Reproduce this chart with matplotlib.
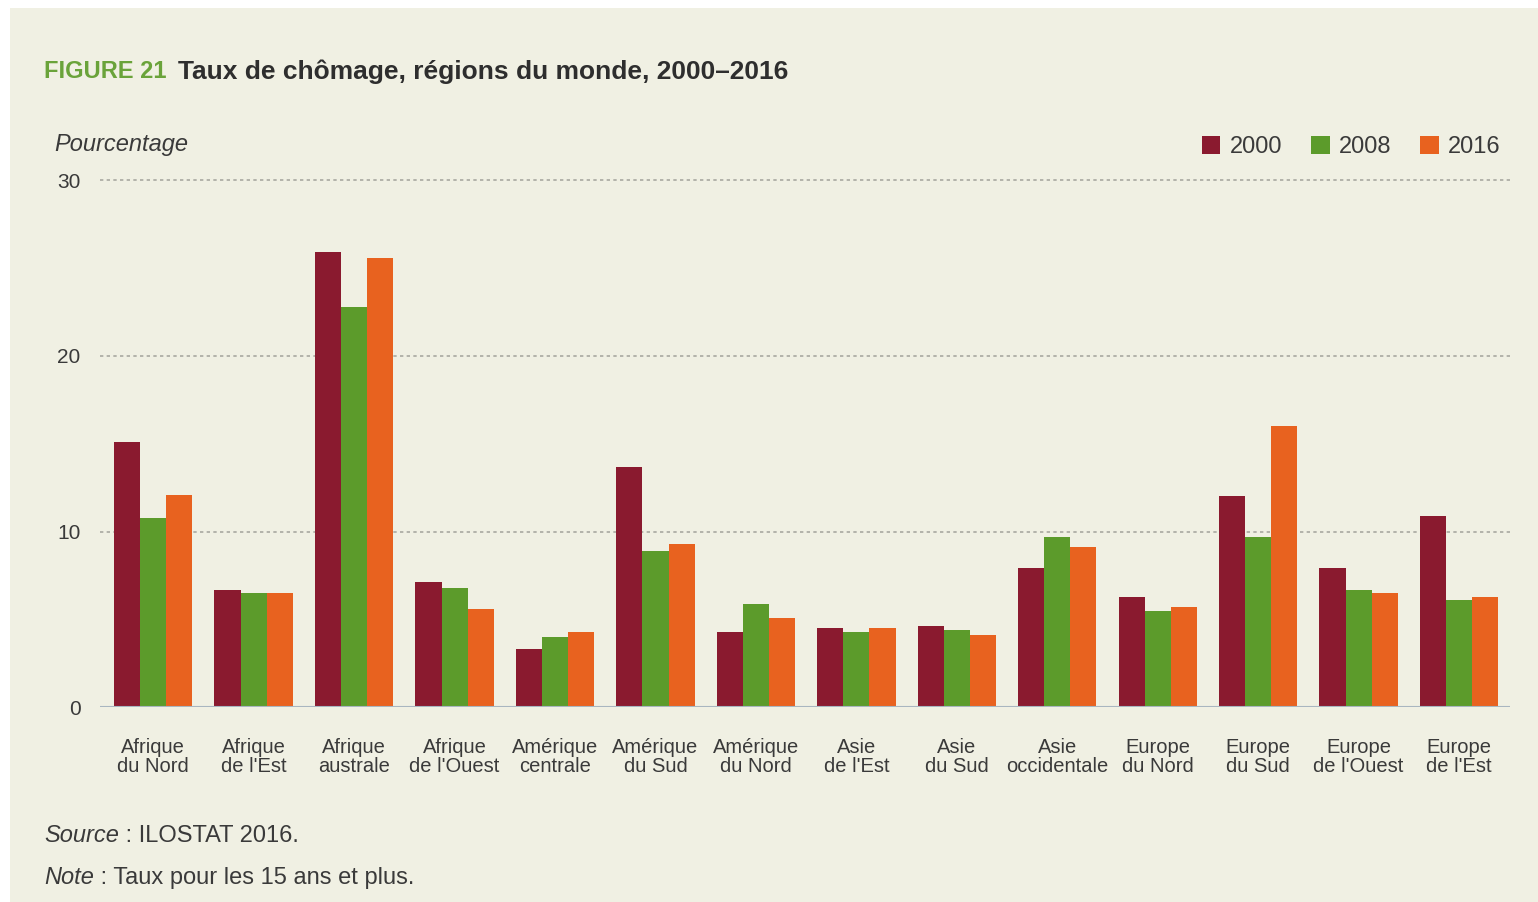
import matplotlib
matplotlib.use("Agg")
import matplotlib.pyplot as plt
import numpy as np
from matplotlib.patches import Rectangle

regions = ["Afrique\ndu Nord", "Afrique\nde l'Est", "Afrique\naustrale", "Afrique\nde l'Ouest",
           "Amérique\ncentrale", "Amérique\ndu Sud", "Amérique\ndu Nord", "Asie\nde l'Est",
           "Asie\ndu Sud", "Asie\noccidentale", "Europe\ndu Nord", "Europe\ndu Sud",
           "Europe\nde l'Ouest", "Europe\nde l'Est"]
years = ["2000", "2008", "2016"]
v2000 = [15.1, 6.7, 25.9, 7.1, 3.3, 13.7, 4.3, 4.5, 4.6, 7.9, 6.3, 12.0, 7.9, 10.9]
v2008 = [10.8, 6.5, 22.8, 6.8, 4.0, 8.9, 5.9, 4.3, 4.4, 9.7, 5.5, 9.7, 6.7, 6.1]
v2016 = [12.1, 6.5, 25.6, 5.6, 4.3, 9.3, 5.1, 4.5, 4.1, 9.1, 5.7, 16.0, 6.5, 6.3]
yticks = [0, 10, 20, 30]

colors = ["#8a1a2f", "#5c9b2b", "#e8621f"]
bg = "#f0f0e3"
txt = "#3a3a3a"

plt.rcParams['font.family'] = ['Liberation Sans', 'DejaVu Sans']

fig = plt.figure(figsize=(15.38, 9.02), dpi=100)
fig.patch.set_facecolor("white")
fig.patches.append(Rectangle((10 / 1538, 0), 1 - 10 / 1538, 1 - 8 / 902,
                             transform=fig.transFigure, facecolor=bg, edgecolor="none", zorder=-10))

ax = fig.add_axes([0.065, 0.216, 0.917, 0.584])
ax.patch.set_alpha(0)

x = np.arange(len(regions))
w = 0.26
for i, (vals, c) in enumerate(zip([v2000, v2008, v2016], colors)):
    ax.bar(x + (i - 1) * w, vals, w, color=c, label=years[i], zorder=3)

ax.set_xlim(-0.53, 13.51)
ax.set_ylim(0, 30)
ax.set_yticks(yticks)
for t in yticks[1:]:
    ax.axhline(t, color="#a8a8a0", lw=1.2, ls=(0, (2, 2)), zorder=1, clip_on=(t != 30))
ax.axhline(0, color="#a9b6c0", lw=1.5, zorder=4)

for s in ax.spines.values():
    s.set_visible(False)
ax.tick_params(axis="both", length=0, labelsize=15, colors=txt)
ax.tick_params(axis="y", pad=14)
ax.set_xticks(x)
ax.set_xticklabels(regions, fontsize=14.5, linespacing=1.0)
ax.tick_params(axis="x", pad=22)

fig.text(44 / 1538, 1 - 72 / 902, "FIGURE 21", color="#6aa33a", fontsize=17, fontweight="bold", va="center")
fig.text(178 / 1538, 1 - 72 / 902, "Taux de chômage, régions du monde, 2000–2016", color="#2e2e2e",
         fontsize=19, fontweight="bold", va="center")
fig.text(54 / 1538, 1 - 144 / 902, "Pourcentage", color=txt, fontsize=17, style="italic", va="center")

leg = ax.legend(loc="upper right", bbox_to_anchor=(1.0, 1.103), ncol=3, frameon=False, fontsize=17,
                handlelength=0.8, handleheight=0.8, handletextpad=0.4, columnspacing=1.2,
                borderaxespad=0)
for t in leg.get_texts():
    t.set_color(txt)

# source / note lines: italic label followed by plain text
src = fig.text(44 / 1538, 1 - 842 / 902, "Source", color=txt, fontsize=17, style="italic", va="baseline")
ax.annotate(" : ILOSTAT 2016.", xy=(1, 0), xycoords=src, color=txt, fontsize=17, va="bottom", ha="left")
note = fig.text(44 / 1538, 1 - 884 / 902, "Note", color=txt, fontsize=17, style="italic", va="baseline")
ax.annotate(" : Taux pour les 15 ans et plus.", xy=(1, 0), xycoords=note, color=txt, fontsize=17,
            va="bottom", ha="left")

fig.savefig("out.png", dpi=100, facecolor=fig.get_facecolor())
